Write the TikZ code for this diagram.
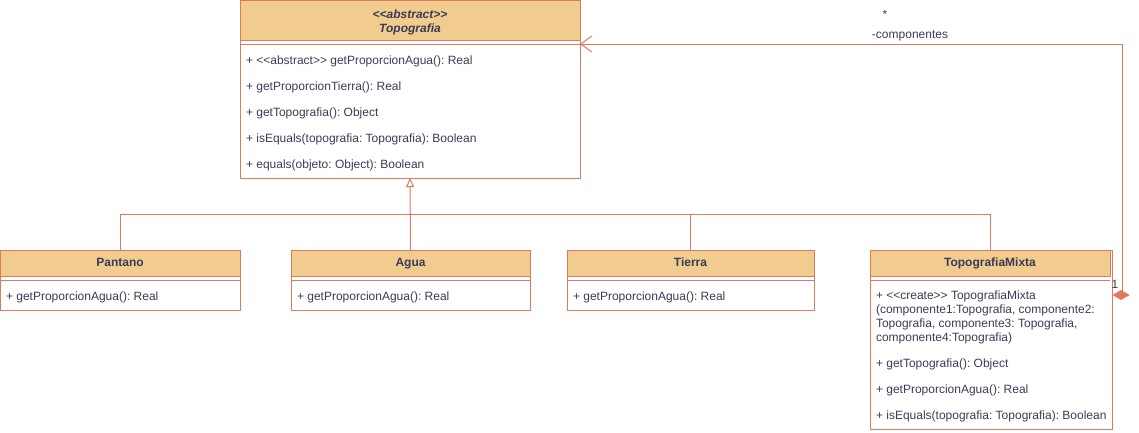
\documentclass[tikz,border=0pt]{standalone}
\usepackage{fontspec}
\setmainfont{Liberation Sans}
\usetikzlibrary{positioning, fit, arrows.meta}
\definecolor{clsline}{HTML}{E07A5F}
\definecolor{clsfill}{HTML}{F2CC8F}
\definecolor{clstext}{HTML}{393C56}
\newcommand\stereo[1]{<\kern0pt<#1>\kern0pt>}
\begin{document}
\frenchspacing
\begin{tikzpicture}[x=1pt, y=-1pt, line width=1pt]
        \tikzset{
            header/.style  = {draw=clsline, fill=clsfill, text=clstext, anchor=north west, inner sep=0pt, outer sep=0pt,
                              minimum height=26pt, text height=9pt, text depth=3pt, font=\fontsize{12}{14}\selectfont\bfseries},
            member/.style  = {text=clstext, anchor=north west, inner xsep=6pt, inner ysep=0pt, outer sep=0pt,
                              minimum height=26pt, align=left, font=\fontsize{12}{14}\selectfont},
            outline/.style = {draw=clsline, inner sep=0pt, outer sep=0pt},
            sep/.style     = {draw=clsline},
            gen/.style     = {draw=clsline, -{Triangle[open, length=9pt, width=8pt]}},
            comp/.style    = {draw=clsline, {Diamond[length=17pt, width=10pt, fill=clsline]}-{Straight Barb[length=11pt, width=16pt]}},
            lbl/.style     = {text=clstext, inner sep=0pt, font=\fontsize{12}{14}\selectfont}
        }
        \useasboundingbox (0,0) rectangle (1139,432);

        \node[header, minimum width=340pt, minimum height=40pt, align=center, text height=, text depth=,
              font=\fontsize{12}{14}\selectfont\bfseries\itshape] (topo-h) at (240,0)
              {\rule{0pt}{13pt}\stereo{abstract}\\Topografia};
        \node[member, below right=8pt and 0pt of topo-h.south west] (topo-m1) {+ \stereo{abstract} getProporcionAgua(): Real};
        \node[member, below right=0pt and 0pt of topo-m1.south west] (topo-m2) {+ getProporcionTierra(): Real};
        \node[member, below right=0pt and 0pt of topo-m2.south west] (topo-m3) {+ getTopografia(): Object};
        \node[member, below right=0pt and 0pt of topo-m3.south west] (topo-m4) {+ isEquals(topografia: Topografia): Boolean};
        \node[member, below right=0pt and 0pt of topo-m4.south west] (topo-m5) {+ equals(objeto: Object): Boolean};
        \node[outline, fit=(topo-h)(topo-m5)] (topo) {};
        \draw[sep] ([yshift=-4pt]topo-h.south west) -- ([yshift=-4pt]topo-h.south east);

        \node[header, minimum width=240pt] (pan-h) at (0,250) {Pantano};
        \node[member, below right=8pt and 0pt of pan-h.south west] (pan-m1) {+ getProporcionAgua(): Real};
        \node[outline, fit=(pan-h)(pan-m1)] (pan) {};
        \draw[sep] ([yshift=-4pt]pan-h.south west) -- ([yshift=-4pt]pan-h.south east);

        \node[header, minimum width=239pt] (agua-h) at (291,250) {Agua};
        \node[member, below right=8pt and 0pt of agua-h.south west] (agua-m1) {+ getProporcionAgua(): Real};
        \node[outline, fit=(agua-h)(agua-m1)] (agua) {};
        \draw[sep] ([yshift=-4pt]agua-h.south west) -- ([yshift=-4pt]agua-h.south east);

        \node[header, minimum width=247pt] (tie-h) at (567,250) {Tierra};
        \node[member, below right=8pt and 0pt of tie-h.south west] (tie-m1) {+ getProporcionAgua(): Real};
        \node[outline, fit=(tie-h)(tie-m1)] (tie) {};
        \draw[sep] ([yshift=-4pt]tie-h.south west) -- ([yshift=-4pt]tie-h.south east);

        \node[header, minimum width=240pt] (mix-h) at (870,250) {TopografiaMixta};
        \node[member, minimum height=67pt, below right=8pt and 0pt of mix-h.south west] (mix-m1)
              {+ \stereo{create} TopografiaMixta\\(componente1:Topografia, componente2:\\Topografia, componente3: Topografia,\\componente4:Topografia)};
        \node[member, below right=0pt and 0pt of mix-m1.south west] (mix-m2) {+ getTopografia(): Object};
        \node[member, below right=0pt and 0pt of mix-m2.south west] (mix-m3) {+ getProporcionAgua(): Real};
        \node[member, below right=0pt and 0pt of mix-m3.south west] (mix-m4) {+ isEquals(topografia: Topografia): Boolean};
        \node[outline, fit=(mix-h)(mix-m4)] (mix) {};
        \draw[sep] ([yshift=-4pt]mix-h.south west) -- ([yshift=-4pt]mix-h.south east);

        \coordinate (bus) at (410,214);
        \draw[sep] (pan-h.north) |- (bus);
        \draw[sep] (tie-h.north) |- (bus);
        \draw[sep] (mix-h.north) |- (bus);
        \draw[gen] (agua-h.north) -- (topo.south);

        \draw[comp] ([yshift=-45pt]mix.north east) -- ++(10pt,0) |- ([yshift=-4pt]topo-h.south east);
        \node[lbl] (mult-one) at (1115,284) {1};
        \node[lbl] (mult-many) at (885,14) {*};
        \node[lbl] (role) at (910,35.5) {-componentes};
    \end{tikzpicture}
\end{document}
